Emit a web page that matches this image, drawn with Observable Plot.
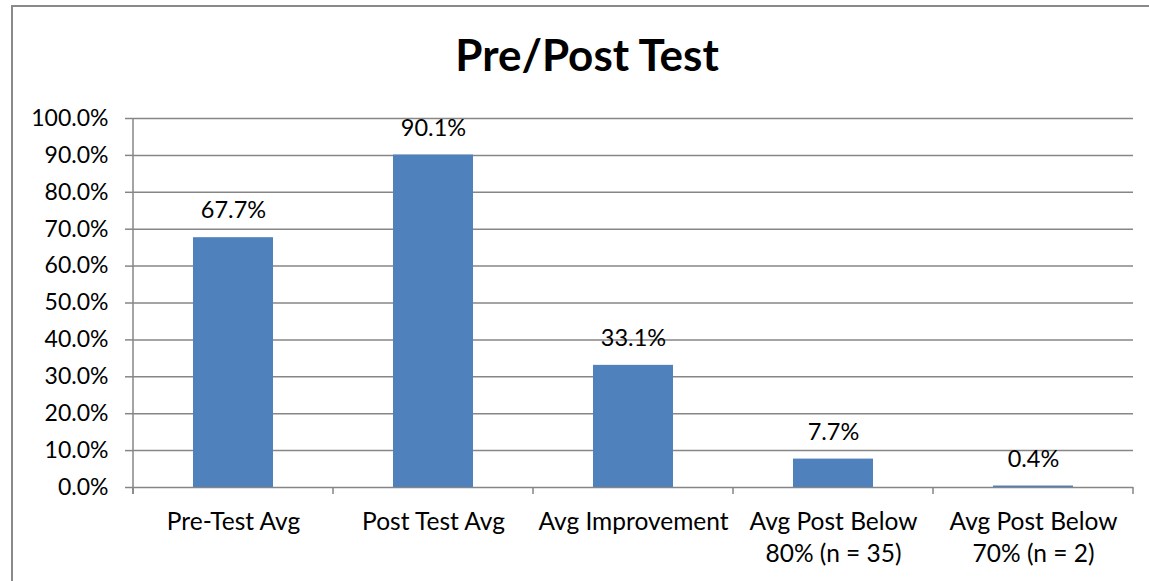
<!DOCTYPE html>
<html><head><meta charset="utf-8">
<script src="https://cdn.jsdelivr.net/npm/d3@7"></script>
<script src="https://cdn.jsdelivr.net/npm/@observablehq/plot@0.6"></script>
<style>
body{margin:0;background:#fff;}
#wrap{position:relative;width:1149px;height:581px;overflow:hidden;font-family:Lato,sans-serif;background:#fff}
#frame{position:absolute;left:11px;top:5px;width:2000px;height:2000px;border-left:2px solid #8a8a8a;border-top:2px solid #8a8a8a;box-sizing:border-box}
#title{position:absolute;top:32px;left:0;width:1174px;text-align:center;font-weight:bold;font-size:44px;line-height:1;color:#000}
#chart{position:absolute;left:0;top:0}
</style></head>
<body>
<div id="wrap"><div id="frame"></div><div id="chart"></div><div id="title">Pre/Post Test</div></div>
<script>
const categories = ["Pre-Test Avg","Post Test Avg","Avg Improvement","Avg Post Below\n80% (n = 35)","Avg Post Below\n70% (n = 2)"];
const values = [67.7, 90.1, 33.1, 7.7, 0.4];
const yTicks = [0,10,20,30,40,50,60,70,80,90,100];
const data = categories.map((c,i)=>({category:c, value:values[i]}));

function boundaryTicks(index, scales, values, dims) {
  const x = scales.x, y = scales.y;
  const step = x.step(), bw = x.bandwidth();
  const g = d3.create("svg:g").attr("stroke","#868686").attr("stroke-width",1.5);
  const y0 = y(0);
  const xs = categories.map(c => x(c) - (step-bw)/2);
  xs.push(x(categories[categories.length-1]) + bw + (step-bw)/2);
  for (const xv of xs) g.append("line").attr("x1",xv).attr("x2",xv).attr("y1",y0).attr("y2",y0+7);
  g.append("line").attr("x1",dims.marginLeft).attr("x2",dims.marginLeft).attr("y1",y(100)).attr("y2",y0+7);
  return g.node();
}

const plot = Plot.plot({
  width:1149, height:581,
  marginLeft:133, marginRight:16, marginTop:118, marginBottom:94,
  style:{fontFamily:"Lato, sans-serif", fontSize:"23px", color:"#000", background:"transparent"},
  x:{domain:categories, paddingInner:0.6, paddingOuter:0.3},
  y:{domain:[0,100]},
  marks:[
    Plot.gridY(yTicks, {stroke:"#868686", strokeOpacity:1, strokeWidth:1.5}),
    Plot.barY(data, {x:"category", y:"value", fill:"#4F81BD"}),
    Plot.text(data, {x:"category", y:"value", text:d=>d.value.toFixed(1)+"%", dy:-27, fontSize:23.5, fill:"#000"}),
    Plot.axisY(yTicks, {tickSize:8, tickPadding:17, stroke:"#868686", strokeWidth:1.5, tickFormat:d=>d.toFixed(1)+"%", label:null, fontSize:23, fill:"#000"}),
    Plot.axisX({tickSize:0, tickPadding:19, lineHeight:1.33, label:null, fontSize:24.5, fill:"#000"}),
    boundaryTicks
  ]
});
document.getElementById("chart").appendChild(plot);
</script>
</body></html>
